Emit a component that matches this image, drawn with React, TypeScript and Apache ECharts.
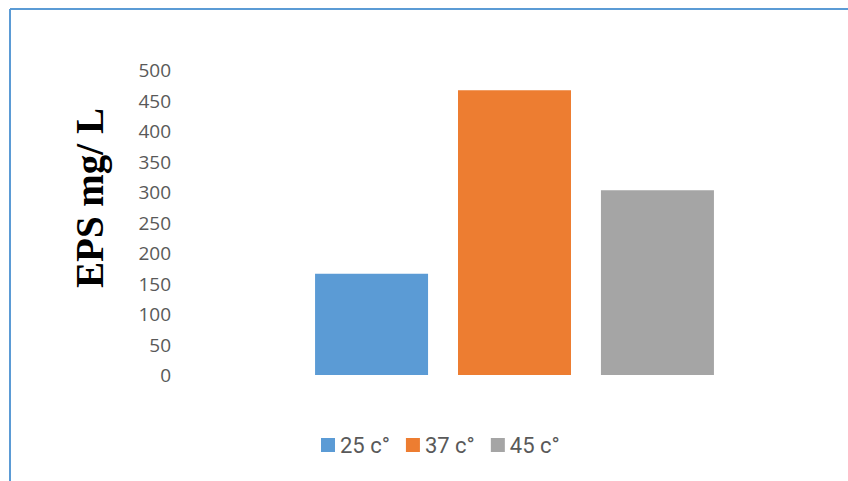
import React, { useEffect, useRef } from "react";
import * as echarts from "echarts";

const seriesNames = ["25 c°", "37 c°", "45 c°"];
const seriesValues = [166, 467, 303];
const seriesColors = ["#5b9bd5", "#ed7d31", "#a5a5a5"];
const categories = [""];
const yTitle = "EPS mg/ L";

export default function App() {
  const ref = useRef<HTMLDivElement>(null);
  useEffect(() => {
    if (!ref.current) return;
    const chart = echarts.init(ref.current, undefined, { renderer: "svg" });
    chart.setOption({
      animation: false,
      backgroundColor: "#ffffff",
      grid: { left: 181, right: 0, top: 70, bottom: 106 },
      legend: {
        left: 321,
        top: 434,
        padding: 0,
        itemWidth: 14,
        itemHeight: 14,
        itemGap: 16,
        icon: "rect",
        textStyle: { fontSize: 22, color: "#595959", fontFamily: "Roboto", padding: [3, 0, 0, 0] },
        data: seriesNames,
      },
      xAxis: {
        type: "category",
        data: categories,
        axisLine: { show: false },
        axisTick: { show: false },
        axisLabel: { show: false },
      },
      yAxis: {
        type: "value",
        min: 0,
        max: 500,
        interval: 50,
        axisLine: { show: false },
        axisTick: { show: false },
        splitLine: { show: false },
        axisLabel: {
          fontSize: 19,
          color: "#595959",
          fontFamily: "Open Sans",
          margin: 10,
        },
      },
      series: seriesNames.map((name, i) => ({
        name,
        type: "bar",
        data: [seriesValues[i]],
        barWidth: 113,
        barGap: "26.5%",
        itemStyle: { color: seriesColors[i] },
      })),
      graphic: [
        {
          type: "line",
          shape: { x1: 10, y1: 9, x2: 848, y2: 9 },
          style: { stroke: "#5b9bd5", lineWidth: 2 },
        },
        {
          type: "line",
          shape: { x1: 10, y1: 9, x2: 10, y2: 481 },
          style: { stroke: "#5b9bd5", lineWidth: 2 },
        },
        {
          type: "text",
          x: 89,
          y: 198,
          rotation: Math.PI / 2,
          style: {
            text: yTitle,
            fontFamily: "Liberation Serif",
            fontWeight: "bold",
            fontSize: 39,
            fill: "#000000",
            textAlign: "center",
            textVerticalAlign: "middle",
          },
        },
      ],
    });
    return () => chart.dispose();
  }, []);
  return (
    <div
      ref={ref}
      style={{ position: "fixed", left: 0, top: 0, width: 848, height: 481 }}
    />
  );
}
